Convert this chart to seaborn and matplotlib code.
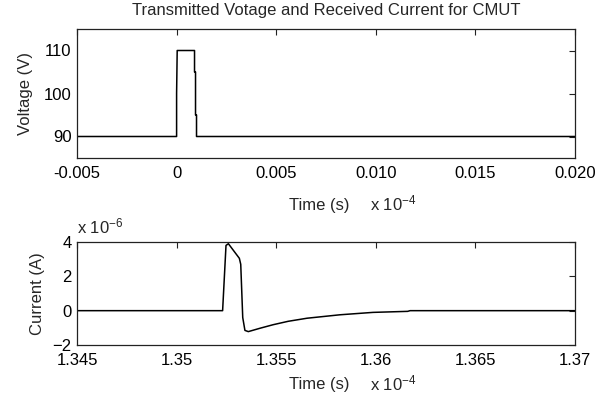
import matplotlib
matplotlib.use("Agg")
import matplotlib.pyplot as plt
import seaborn as sns

# time in units of 1e-4 s, voltage in V
volt_time = [-0.005, 0.0, 0.0, 0.00003, 0.0009, 0.0009, 0.00095, 0.00095, 0.001, 0.001, 0.020]
volt_val = [90, 90, 100, 110, 110, 105, 105, 95, 95, 90, 90]

# time in units of 1e-4 s, current in units of 1e-6 A
curr_time = [1.345, 1.35231, 1.35248, 1.35260, 1.35315, 1.35322, 1.35332, 1.35343,
             1.35360, 1.35420, 1.35484, 1.35560, 1.35655, 1.35820, 1.35986,
             1.36160, 1.36172, 1.370]
curr_val = [0, 0, 3.8, 3.9, 3.05, 2.7, -0.4, -1.15,
            -1.22, -1.02, -0.82, -0.62, -0.44, -0.24, -0.10,
            -0.04, 0, 0]

volt_ticks = [-0.005, 0, 0.005, 0.010, 0.015, 0.020]
volt_ticklabels = ["-0.005", "0", "0.005", "0.010", "0.015", "0.020"]
curr_ticks = [1.345, 1.35, 1.355, 1.36, 1.365, 1.37]
curr_ticklabels = ["1.345", "1.35", "1.355", "1.36", "1.365", "1.37"]

sns.set_style("white")
plt.rcParams["font.family"] = ["Liberation Sans", "DejaVu Sans"]
plt.rcParams["font.size"] = 12
plt.rcParams["mathtext.fontset"] = "custom"
plt.rcParams["mathtext.rm"] = "Liberation Sans"
plt.rcParams["mathtext.it"] = "Liberation Sans"

fig = plt.figure(figsize=(6.09, 3.99), dpi=100)
W, H = 609, 399
ax1 = fig.add_axes([77 / W, 1 - 158 / H, 498 / W, 129 / H])
ax2 = fig.add_axes([77 / W, 1 - 345 / H, 498 / W, 103 / H])

sns.lineplot(x=volt_time, y=volt_val, ax=ax1, color="black", linewidth=1.1,
             estimator=None, sort=False)
sns.lineplot(x=curr_time, y=curr_val, ax=ax2, color="black", linewidth=1.1,
             estimator=None, sort=False)

ax1.set_xlim(-0.005, 0.020)
ax1.set_ylim(85, 115)
ax1.set_xticks(volt_ticks)
ax1.set_xticklabels(volt_ticklabels)
ax1.set_yticks([90, 100, 110])

ax2.set_xlim(1.345, 1.37)
ax2.set_ylim(-2, 4)
ax2.set_xticks(curr_ticks)
ax2.set_xticklabels(curr_ticklabels)
ax2.set_yticks([-2, 0, 2, 4])

for ax in (ax1, ax2):
    ax.tick_params(direction="in", top=True, right=True, length=4.5, width=0.8,
                   colors="#222222", labelcolor="black", labelsize=12)
    ax.tick_params(axis="x", pad=6)
    ax.tick_params(axis="y", pad=4)
    for s in ax.spines.values():
        s.set_color("#222222")
        s.set_linewidth(0.9)

ax1.set_xlabel("Time (s)", labelpad=12)
ax2.set_xlabel("Time (s)", labelpad=6)
ax1.xaxis.label.set_x(0.486)
ax2.xaxis.label.set_x(0.486)
ax1.set_ylabel("Voltage (V)", labelpad=8)
ax2.set_ylabel("Current (A)", labelpad=5)
ax1.set_title("Transmitted Votage and Received Current for CMUT", fontsize=12, pad=10)

fig.text(370 / W, 1 - 210 / H, r"x 10$^{-4}$", ha="left", va="baseline", fontsize=12)
fig.text(370 / W, 1 - 390 / H, r"x 10$^{-4}$", ha="left", va="baseline", fontsize=12)
fig.text(77 / W, 1 - 233 / H, r"x 10$^{-6}$", ha="left", va="baseline", fontsize=12)

fig.savefig("out.png", dpi=100, facecolor="white")
